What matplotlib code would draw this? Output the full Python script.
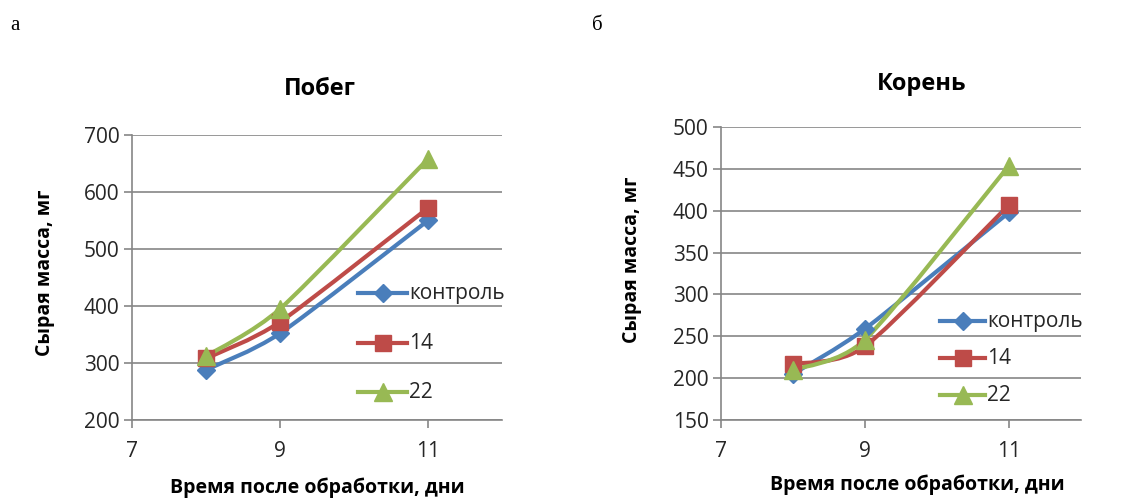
import matplotlib
matplotlib.use("Agg")
import matplotlib.pyplot as plt
from matplotlib.path import Path
from matplotlib.patches import PathPatch
from matplotlib.lines import Line2D
import numpy as np

plt.rcParams['font.family'] = ['Open Sans', 'DejaVu Sans']

days = [8, 9, 11]
series_names = ["контроль", "14", "22"]
shoot_control = [288, 352, 550]
shoot_14 = [308, 372, 572]
shoot_22 = [312, 395, 658]
root_control = [205, 259, 398]
root_14 = [217, 238, 407]
root_22 = [210, 246, 454]

colors = ["#4A7EBB", "#BE4B48", "#98B954"]
markers = ["D", "s", "^"]
msizes = [9.5, 12, 13]

W, H = 1129, 498
fig = plt.figure(figsize=(W / 100, H / 100), dpi=100)


def fx(px):
    return px / W


def fy(py):
    return 1 - py / H


def smooth_path(xs, ys, t=0.12):
    pts = list(zip(xs, ys))
    n = len(pts)
    verts = [pts[0]]
    codes = [Path.MOVETO]
    for i in range(n - 1):
        p0 = pts[i - 1] if i > 0 else pts[i]
        p1 = pts[i]
        p2 = pts[i + 1]
        p3 = pts[i + 2] if i + 2 < n else pts[i + 1]
        c1 = (p1[0] + (p2[0] - p0[0]) * t, p1[1] + (p2[1] - p0[1]) * t)
        c2 = (p2[0] - (p3[0] - p1[0]) * t, p2[1] - (p3[1] - p1[1]) * t)
        verts += [c1, c2, p2]
        codes += [Path.CURVE4] * 3
    return Path(verts, codes)


def panel(rect, data, ylim, yticks, title, title_xy, ylab_xy, leg_rows, leg_x):
    ax = fig.add_axes(rect)
    ax.set_xlim(7, 12)
    ax.set_ylim(*ylim)
    ax.set_xticks([7, 9, 11])
    ax.set_yticks(yticks)
    ax.grid(axis='y', color='#868686', linewidth=1.2)
    ax.set_axisbelow(True)
    for s in ['top', 'right']:
        ax.spines[s].set_visible(False)
    ax.spines['left'].set_color('#868686')
    ax.spines['bottom'].set_color('#868686')
    ax.spines['left'].set_linewidth(1.2)
    ax.spines['bottom'].set_linewidth(1.2)
    ax.tick_params(axis='both', direction='out', color='#868686', length=6, width=1.2,
                   labelsize=15, colors='#868686', labelcolor='#262626')
    ax.tick_params(axis='x', pad=9)
    ax.tick_params(axis='y', pad=3)
    for vals, c, m, ms in zip(data, colors, markers, msizes):
        patch = PathPatch(smooth_path(days, vals), facecolor='none', edgecolor=c,
                          linewidth=3, zorder=3, capstyle='round', joinstyle='round')
        ax.add_patch(patch)
        ax.plot(days, vals, linestyle='none', marker=m, color=c, markersize=ms, zorder=4)
    fig.text(fx(title_xy[0]), fy(title_xy[1]), title, ha='center', va='center',
             fontsize=17, fontweight='bold')
    fig.text(fx(ylab_xy[0]), fy(ylab_xy[1]), "Сырая масса, мг", ha='center', va='center',
             rotation=90, fontsize=14, fontweight='bold')
    # legend
    for name, c, m, ms, ry in zip(series_names, colors, markers, msizes, leg_rows):
        x0, x1 = leg_x
        fig.add_artist(Line2D([fx(x0), fx(x1)], [fy(ry), fy(ry)], color=c, linewidth=3,
                              transform=fig.transFigure))
        fig.add_artist(Line2D([fx((x0 + x1) / 2)], [fy(ry)], color=c, marker=m,
                              markersize=ms, linestyle='none', transform=fig.transFigure))
        fig.text(fx(x1 + 2), fy(ry), name, ha='left', va='center', fontsize=15,
                 color='#262626')
    return ax


panel([fx(132), fy(420), fx(502) - fx(132), fy(135) - fy(420)],
      [shoot_control, shoot_14, shoot_22], (200, 700), [200, 300, 400, 500, 600, 700],
      "Побег", (320, 89), (45, 273), [293, 343, 392], (358, 407))
panel([fx(721), fy(420), fx(1081) - fx(721), fy(127) - fy(420)],
      [root_control, root_14, root_22], (150, 500), [150, 200, 250, 300, 350, 400, 450, 500],
      "Корень", (922, 84), (632, 260), [321, 358, 395], (940, 985))

fig.text(fx(317), fy(488), "Время после обработки, дни", ha='center', va='center',
         fontsize=14, fontweight='bold')
fig.text(fx(917), fy(485), "Время после обработки, дни", ha='center', va='center',
         fontsize=14, fontweight='bold')
fig.text(fx(15), fy(25), "а", ha='center', va='center', fontsize=15,
         family='Liberation Serif')
fig.text(fx(597), fy(25), "б", ha='center', va='center', fontsize=15,
         family='Liberation Serif')

fig.savefig("out.png", dpi=100)
